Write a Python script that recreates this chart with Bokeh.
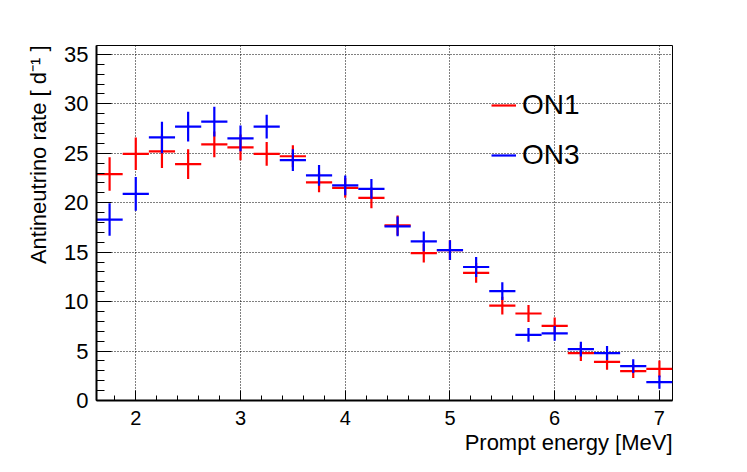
import math
from bokeh.plotting import figure
from bokeh.models import ColumnDataSource, Legend, LegendItem, Title, FixedTicker, Range1d
from bokeh.embed import file_html
from bokeh.resources import INLINE

# ---- data ----
energy = [1.75, 2.0, 2.25, 2.5, 2.75, 3.0, 3.25, 3.5, 3.75, 4.0, 4.25,
          4.5, 4.75, 5.0, 5.25, 5.5, 5.75, 6.0, 6.25, 6.5, 6.75, 7.0]
on1_rate = [22.9, 24.95, 25.2, 23.9, 25.9, 25.6, 24.95, 24.7, 22.05, 21.5, 20.5,
            17.7, 14.9, 15.2, 12.9, 9.6, 8.8, 7.55, 4.8, 3.9, 2.97, 3.2]
on1_err = [1.7, 1.65, 1.7, 1.5, 1.3, 1.3, 1.2, 1.1, 1.0, 1.0, 1.05,
           1.0, 0.95, 1.0, 1.0, 0.9, 0.85, 0.85, 0.8, 0.8, 0.7, 0.85]
on3_rate = [18.3, 20.9, 26.6, 27.7, 28.2, 26.5, 27.7, 24.3, 22.76, 21.75, 21.4,
            17.6, 16.1, 15.2, 13.5, 11.06, 6.64, 6.78, 5.2, 4.8, 3.47, 1.85]
on3_err = [1.65, 1.7, 1.6, 1.5, 1.5, 1.3, 1.2, 1.1, 1.05, 1.0, 1.0,
           1.0, 1.0, 1.0, 1.0, 0.9, 0.7, 0.75, 0.75, 0.7, 0.7, 0.67]
bin_width = 0.25
x_ticks = [2, 3, 4, 5, 6, 7]
y_ticks = [0, 5, 10, 15, 20, 25, 30, 35]

FONT = "Liberation Sans"
X_MIN, X_MAX = 1.625, 7.125
Y_MIN, Y_MAX = 0, 35.9

p = figure(width=740, height=465, output_backend="svg", toolbar_location=None,
           x_range=Range1d(X_MIN, X_MAX), y_range=Range1d(Y_MIN, Y_MAX),
           min_border_left=96, min_border_right=68, min_border_top=45, min_border_bottom=65)
p.background_fill_color = "white"
p.border_fill_color = "white"
p.outline_line_color = "black"
p.outline_line_width = 1

def make_source(rate, err):
    half = bin_width / 2
    return ColumnDataSource(dict(
        x=energy, y=rate,
        x0=[e - half for e in energy], x1=[e + half for e in energy],
        ylo=[r - s for r, s in zip(rate, err)], yhi=[r + s for r, s in zip(rate, err)],
    ))

src1 = make_source(on1_rate, on1_err)
src3 = make_source(on3_rate, on3_err)

r1h = p.segment(x0="x0", y0="y", x1="x1", y1="y", source=src1, line_color="#ff0000", line_width=2.2)
r1v = p.segment(x0="x", y0="ylo", x1="x", y1="yhi", source=src1, line_color="#ff0000", line_width=2.2)
r3h = p.segment(x0="x0", y0="y", x1="x1", y1="y", source=src3, line_color="#0000ff", line_width=2.2)
r3v = p.segment(x0="x", y0="ylo", x1="x", y1="yhi", source=src3, line_color="#0000ff", line_width=2.2)

# axes
xa = p.xaxis[0]
ya = p.yaxis[0]
xa.ticker = FixedTicker(ticks=x_ticks, minor_ticks=[round(1.6 + 0.2 * i, 2) for i in range(28)])
ya.ticker = FixedTicker(ticks=y_ticks, minor_ticks=list(range(0, 36)))
for ax in (xa, ya):
    ax.axis_line_color = "black"
    ax.axis_line_width = 2
    ax.major_tick_out = 0
    ax.minor_tick_out = 0
    ax.major_tick_line_color = "black"
    ax.minor_tick_line_color = "black"
    ax.major_label_text_font = FONT
    ax.major_label_text_color = "black"
xa.major_tick_in = 10
xa.minor_tick_in = 5
ya.major_tick_in = 15
ya.minor_tick_in = 8
xa.major_label_text_font_size = "20px"
ya.major_label_text_font_size = "22px"
xa.major_label_standoff = 10
ya.major_label_standoff = 8

p.xgrid.grid_line_color = "black"
p.ygrid.grid_line_color = "black"
p.xgrid.grid_line_dash = "1 2"
p.ygrid.grid_line_dash = "1 2"
p.xgrid.grid_line_width = 1
p.ygrid.grid_line_width = 1

# axis titles (ROOT style: aligned to the end of the axis)
p.add_layout(Title(text="Prompt energy [MeV]", align="right", text_font=FONT,
                   text_font_size="22px", text_font_style="normal", text_color="black",
                   standoff=0, offset=0), "below")
p.add_layout(Title(text="Antineutrino rate [ d\u207b\u00b9 ]", align="right", text_font=FONT,
                   text_font_size="22px", text_font_style="normal", text_color="black",
                   standoff=21, offset=0), "left")

legend = Legend(items=[LegendItem(label="ON1", renderers=[r1h]),
                       LegendItem(label="ON3", renderers=[r3h])],
                location=(395, 225), glyph_width=25, glyph_height=40, label_height=40,
                label_standoff=6, spacing=10, padding=0, margin=0,
                border_line_color=None, background_fill_alpha=0,
                label_text_font=FONT, label_text_font_size="28px", label_text_color="black")
p.add_layout(legend)

open("out.html", "w").write(file_html(p, INLINE))
